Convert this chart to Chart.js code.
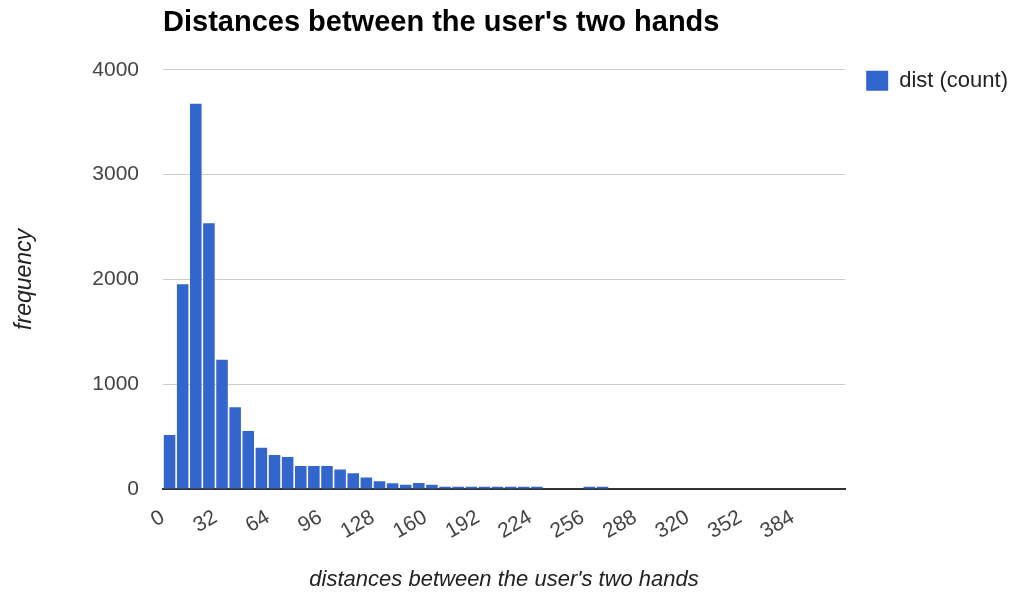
<!DOCTYPE html>
<html>
<head>
<meta charset="utf-8">
<script src="https://cdn.jsdelivr.net/npm/chart.js@4.4.1/dist/chart.umd.min.js"></script>
<style>
    html, body { margin: 0; padding: 0; background: #fff; }
    #wrap { width: 1015px; height: 596px; position: relative; }
</style>
</head>
<body>
<div id="wrap"><canvas id="chart"></canvas></div>
<script>
// ── DONNEES ──
const BIN_WIDTH = 8;
const binStart = [
    0, 8, 16, 24, 32, 40, 48, 56, 64, 72, 80, 88, 96,
    104, 112, 120, 128, 136, 144, 152, 160, 168, 176, 184, 192, 200,
    208, 216, 224, 232, 240, 248, 256, 264, 272, 280, 288, 296, 304,
    312, 320, 328, 336, 344, 352, 360, 368, 376, 384, 392, 400, 408
];
const counts = [
    515, 1954, 3675, 2536, 1234, 780, 554, 394, 325, 305, 220, 220, 220,
    185, 150, 110, 75, 55, 40, 57, 41, 22, 22, 22, 22, 22,
    22, 22, 22, 0, 0, 0, 22, 22, 0, 0, 0, 0, 0,
    0, 0, 0, 0, 0, 0, 0, 0, 0, 0, 0, 0, 0
];
const yTicks = [0, 1000, 2000, 3000, 4000];
const xTickStep = 32;
const xMax = 416;

const FONT = "'Liberation Sans', Arial, sans-serif";

// ── LEGENDE : petit decalage pour coller a l'original ──
const legendNudge = {
    id: "legendNudge",
    afterLayout(chart) {
        const lg = chart.legend;
        if (!lg) return;
        lg.left += 11;
        lg.right += 11;
        lg.top -= 10;
        lg.bottom -= 10;
    }
};

// ── CHART ──
const points = binStart.map((s, i) => ({ x: s + BIN_WIDTH / 2, y: counts[i] }));

new Chart(document.getElementById("chart"), {
    type: "bar",
    data: {
        datasets: [{
            label: "dist (count)",
            data: points,
            backgroundColor: "#3366cc",
            borderWidth: 0,
            barPercentage: 0.88,
            categoryPercentage: 1
        }]
    },
    options: {
        responsive: true,
        maintainAspectRatio: false,
        animation: false,
        devicePixelRatio: 1,
        layout: { padding: { left: 0, right: 8, top: 0, bottom: 0 } },
        scales: {
            x: {
                type: "linear",
                min: 0, max: xMax,
                offset: false,
                grid: { display: false, drawTicks: false },
                border: { display: true, color: "#333", width: 2 },
                ticks: {
                    stepSize: xTickStep,
                    autoSkip: false,
                    minRotation: 30, maxRotation: 30,
                    padding: 16,
                    color: "#444",
                    font: { family: FONT, size: 21 },
                    callback: val => val >= xMax ? "" : val
                },
                title: {
                    display: true,
                    text: "distances between the user's two hands",
                    color: "#222",
                    font: { family: FONT, size: 22, style: "italic" },
                    padding: { top: 0, bottom: 3 }
                },
                afterFit: scale => { scale.height = 107; }
            },
            y: {
                min: 0, max: 4000,
                afterBuildTicks: scale => { scale.ticks = yTicks.map(v => ({ value: v })); },
                grid: { color: "#cccccc", lineWidth: 1, drawTicks: false },
                border: { display: false },
                ticks: {
                    padding: 24,
                    color: "#444",
                    font: { family: FONT, size: 21 },
                    callback: val => String(val)
                },
                title: {
                    display: true,
                    text: "frequency",
                    color: "#222",
                    font: { family: FONT, size: 23, style: "italic" },
                    padding: { top: 11, bottom: 0 }
                },
                afterFit: scale => { scale.width = 163; }
            }
        },
        plugins: {
            title: {
                display: true,
                text: "Distances between the user's two hands",
                align: "start",
                fullSize: false,
                color: "#000",
                font: { family: FONT, size: 29, weight: "bold" },
                padding: { top: 6, bottom: 29 }
            },
            legend: {
                position: "right",
                align: "start",
                fullSize: false,
                labels: {
                    boxWidth: 22,
                    boxHeight: 20,
                    padding: 10,
                    color: "#222",
                    font: { family: FONT, size: 22 }
                }
            },
            tooltip: { enabled: false }
        }
    },
    plugins: [legendNudge]
});
</script>
</body>
</html>
